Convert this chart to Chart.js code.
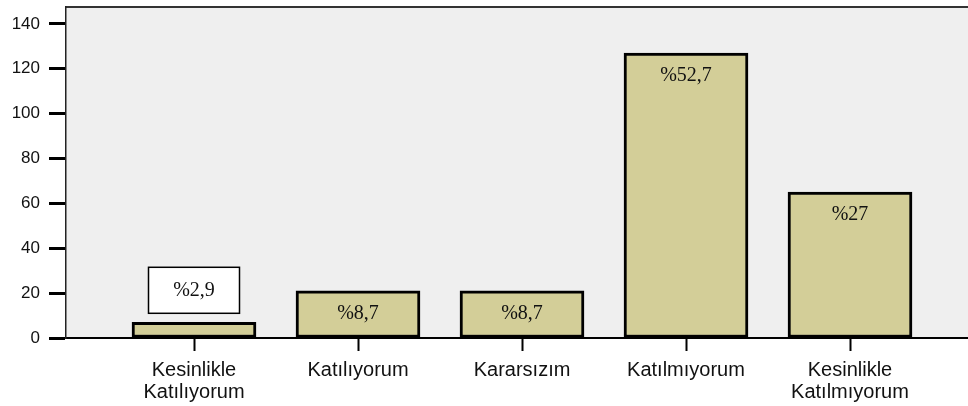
<!DOCTYPE html>
<html lang="tr">
<head>
<meta charset="UTF-8">
<script src="https://cdn.jsdelivr.net/npm/chart.js"></script>
<title>Grafik</title>
<style>
  body { margin: 0; background: #fff; }
</style>
</head>
<body>
<canvas id="grafik" width="968" height="406"></canvas>
<script>
// veriler
const kategoriler = [
  ['Kesinlikle', 'Katılıyorum'],
  'Katılıyorum',
  'Kararsızım',
  'Katılmıyorum',
  ['Kesinlikle', 'Katılmıyorum']
];
const frekanslar = [7, 21, 21, 127, 65];
const yuzdeler = ['%2,9', '%8,7', '%8,7', '%52,7', '%27'];
const yTikler = [0, 20, 40, 60, 80, 100, 120, 140];

// arka plan ve ust cizgi
const arkaPlan = {
  id: 'arkaPlan',
  beforeDraw(chart) {
    const { ctx, chartArea: a } = chart;
    ctx.save();
    ctx.fillStyle = '#efefef';
    ctx.fillRect(a.left, a.top, a.right - a.left, a.bottom - a.top);
    ctx.strokeStyle = '#333';
    ctx.lineWidth = 2;
    ctx.beginPath();
    ctx.moveTo(a.left, a.top);
    ctx.lineTo(a.right, a.top);
    ctx.stroke();
    ctx.restore();
  }
};

// yuzde etiketleri
const etiketler = {
  id: 'etiketler',
  afterDatasetsDraw(chart) {
    const ctx = chart.ctx;
    const meta = chart.getDatasetMeta(0);
    ctx.save();
    ctx.font = '20px "Liberation Serif", "Times New Roman", serif';
    ctx.textAlign = 'center';
    ctx.textBaseline = 'middle';
    meta.data.forEach(function (bar, i) {
      if (frekanslar[i] < 15) {
        let w = 91, h = 46;
        let y0 = bar.y - 9 - h;
        ctx.fillStyle = '#fff';
        ctx.fillRect(bar.x - w / 2, y0, w, h);
        ctx.strokeStyle = '#000';
        ctx.lineWidth = 1.5;
        ctx.strokeRect(bar.x - w / 2, y0, w, h);
        ctx.fillStyle = '#111';
        ctx.fillText(yuzdeler[i], bar.x, y0 + h / 2);
      } else {
        ctx.fillStyle = '#111';
        ctx.fillText(yuzdeler[i], bar.x, bar.y + 23);
      }
    });
    ctx.restore();
  }
};

const noktalar = frekanslar.map((v, i) => ({ x: i, y: v }));

new Chart(document.getElementById('grafik'), {
  type: 'bar',
  data: {
    datasets: [{
      data: noktalar,
      backgroundColor: '#d3ce98',
      borderColor: '#000',
      borderWidth: 3,
      borderSkipped: false,
      barThickness: 124
    }]
  },
  options: {
    responsive: false,
    animation: false,
    layout: { padding: { top: 7, left: 0, right: 0, bottom: 0 } },
    plugins: {
      legend: { display: false },
      tooltip: { enabled: false }
    },
    scales: {
      x: {
        type: 'linear',
        offset: false,
        min: -0.7805,
        max: 4.7195,
        afterBuildTicks: s => { s.ticks = kategoriler.map((k, i) => ({ value: i })); },
        afterFit: s => { s.height = 68; s.paddingLeft = 0; s.paddingRight = 0; },
        ticks: {
          callback: v => kategoriler[v],
          color: '#111',
          font: { family: '"Liberation Sans", Arial, sans-serif', size: 20, lineHeight: 1.1 },
          padding: 8,
          maxRotation: 0,
          autoSkip: false
        },
        grid: {
          offset: false,
          drawOnChartArea: false,
          drawTicks: true,
          tickLength: 13,
          tickWidth: 2,
          tickColor: '#000'
        },
        border: { display: true, color: '#000', width: 2 }
      },
      y: {
        min: 0,
        max: 147.5,
        afterBuildTicks: s => { s.ticks = yTikler.map(v => ({ value: v })); },
        afterFit: s => { s.width = 66; s.paddingTop = 0; s.paddingBottom = 0; },
        ticks: {
          color: '#111',
          font: { family: '"Liberation Sans", Arial, sans-serif', size: 17 },
          padding: 9
        },
        grid: {
          drawOnChartArea: false,
          drawTicks: true,
          tickLength: 17,
          tickWidth: 3,
          tickColor: '#000'
        },
        border: { display: true, color: '#222', width: 1.5 }
      }
    }
  },
  plugins: [arkaPlan, etiketler]
});
</script>
</body>
</html>
